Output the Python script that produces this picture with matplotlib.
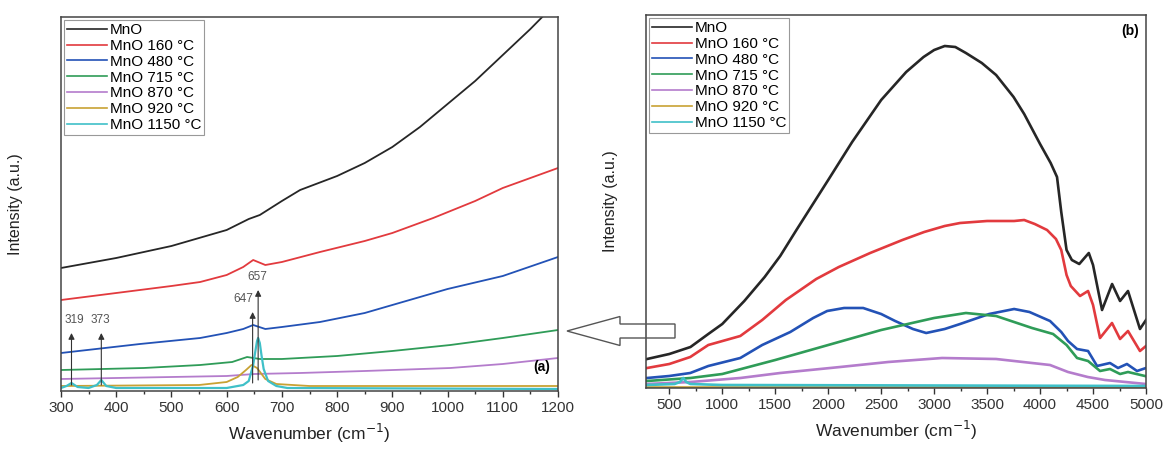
import numpy as np
import matplotlib
matplotlib.use("Agg")
import matplotlib.pyplot as plt
from matplotlib.patches import FancyArrow
from matplotlib.ticker import MultipleLocator

plt.rcParams['font.family'] = ['Liberation Sans', 'DejaVu Sans']

labels = ['MnO', 'MnO 160 °C', 'MnO 480 °C', 'MnO 715 °C',
          'MnO 870 °C', 'MnO 920 °C', 'MnO 1150 °C']
colors = ['#262626', '#e23a3e', '#2352b6', '#2f9c58',
          '#b47ccc', '#c8a234', '#3fc0c8']

# ---- panel (a): Raman, 300-1200 cm-1 (intensity in arbitrary units)
a_x = [
    [300, 400, 500, 600, 640, 660, 700, 733, 800, 850, 900, 950, 1000, 1050, 1100, 1150, 1200],
    [300, 400, 500, 552, 600, 630, 648, 670, 700, 769, 850, 900, 974, 1050, 1100, 1200],
    [300, 443, 552, 600, 630, 648, 670, 700, 769, 850, 900, 1000, 1100, 1200],
    [300, 450, 552, 610, 637, 660, 700, 733, 800, 900, 1005, 1100, 1200],
    [300, 500, 600, 650, 733, 850, 1005, 1100, 1200],
    [300, 550, 600, 620, 635, 645, 655, 670, 690, 750, 1200],
    [300, 310, 319, 330, 350, 365, 373, 382, 400, 600, 630, 640, 648, 652, 655, 657, 660, 663,
     667, 675, 690, 710, 1200],
]
a_y = [
    [125, 135, 147, 163, 174, 178, 192, 203, 217, 230, 246, 266, 289, 312, 338, 364, 392],
    [93, 100, 107, 111, 118, 126, 133, 128, 131, 141, 152, 160, 175, 192, 205, 225],
    [40, 49, 55, 60, 64, 68, 64, 66, 71, 80, 88, 104, 117, 136],
    [23, 25, 28, 31, 36, 34, 34, 35, 37, 42, 48, 55, 63],
    [14, 16, 17, 19, 20, 22, 25, 29, 35],
    [7, 8, 11, 16, 23, 28, 25, 14, 9, 7, 7],
    [5, 7, 10, 6, 5, 8, 13, 7, 5, 5, 8, 12, 28, 42, 52, 55, 50, 38,
     24, 12, 7, 5, 4],
]
peak_wn = [319, 373, 647, 657]
peak_base = [8, 8, 10, 13]
peak_top = [60, 60, 81, 103]
peak_text = ['319', '373', '647', '657']

# ---- panel (b): 300-5000 cm-1
b_x = [
    [290, 500, 700, 868, 1000, 1208, 1400, 1547, 1700, 2000, 2226, 2500, 2736, 2900, 3000, 3100,
     3200, 3300, 3450, 3585, 3750, 3850, 4000, 4100, 4160, 4200, 4250, 4300, 4370, 4460, 4500,
     4585, 4680, 4755, 4830, 4943, 5000],
    [290, 500, 698, 868, 1170, 1377, 1600, 1887, 2100, 2396, 2700, 2906, 3100, 3245, 3500, 3755,
     3850, 3950, 4066, 4150, 4200, 4250, 4290, 4377, 4453, 4500, 4566, 4679, 4755, 4830, 4943, 5000],
    [290, 500, 698, 868, 1170, 1377, 1642, 1858, 1990, 2150, 2330, 2500, 2632, 2800, 2925, 3100,
     3245, 3519, 3755, 3900, 4094, 4200, 4264, 4349, 4453, 4538, 4660, 4736, 4820, 4915, 5000],
    [290, 700, 1000, 1500, 2000, 2500, 3000, 3300, 3585, 3924, 4123, 4250, 4349, 4453, 4566, 4660,
     4755, 4830, 4990],
    [290, 700, 1170, 1547, 2113, 2566, 3075, 3585, 4094, 4264, 4450, 4613, 5000],
    [290, 1000, 2000, 3000, 4000, 5000],
    [290, 550, 600, 632, 660, 700, 1000, 5000],
]
b_y = [
    [31, 36, 43, 56, 66, 89, 113, 134, 160, 210, 248, 290, 318, 333, 340, 344,
     343, 337, 327, 315, 293, 276, 246, 227, 213, 178, 140, 130, 126, 137, 125,
     80, 106, 89, 99, 61, 70],
    [22, 26, 33, 45, 54, 70, 90, 111, 123, 137, 150, 158, 164, 167, 169, 169,
     170, 166, 160, 151, 140, 115, 104, 94, 99, 85, 52, 67, 51, 59, 39, 44],
    [12, 14, 17, 24, 32, 45, 58, 72, 79, 82, 82, 76, 69, 61, 57, 61,
     66, 76, 81, 78, 69, 58, 49, 41, 39, 24, 27, 22, 26, 19, 22],
    [9, 12, 16, 30, 45, 60, 72, 77, 74, 62, 56, 45, 32, 29, 19, 21,
     16, 18, 14],
    [6, 8, 12, 17, 23, 28, 32, 31, 25, 18, 13, 10, 6],
    [3, 3, 3, 3, 3, 3],
    [5, 6, 8, 12, 8, 6, 5, 4],
]

W, H = 1165, 450
fig = plt.figure(figsize=(W / 100, H / 100), dpi=100)
ax1 = fig.add_axes([61 / W, 1 - 391 / H, 497 / W, 374 / H])
ax2 = fig.add_axes([646 / W, 1 - 388 / H, 500 / W, 373 / H])

for i in range(len(labels)):
    lw_a = 1.6 if i == 6 else 1.3
    ax1.plot(a_x[i], a_y[i], color=colors[i], lw=lw_a, label=labels[i])
    ax2.plot(b_x[i], b_y[i], color=colors[i], lw=1.9, label=labels[i])

for wn, y0, y1, t in zip(peak_wn, peak_base, peak_top, peak_text):
    ax1.annotate('', xy=(wn, y1), xytext=(wn, y0),
                 arrowprops=dict(arrowstyle='-|>', color='#333333', lw=0.8,
                                 mutation_scale=9, shrinkA=0, shrinkB=0))
dx = [5, -1, -17, -2]
for wn, y1, t, d in zip(peak_wn, peak_top, peak_text, dx):
    ax1.text(wn + d, y1 + 7, t, ha='center', va='bottom', fontsize=8.5, color='#555555')

ax1.set_xlim(300, 1200)
ax1.set_ylim(2, 376)
ax1.xaxis.set_major_locator(MultipleLocator(100))
ax1.xaxis.set_minor_locator(MultipleLocator(50))
ax1.text(0.985, 0.045, '(a)', transform=ax1.transAxes, ha='right', va='bottom',
         fontsize=10, fontweight='bold')

ax2.set_xlim(280, 5000)
ax2.set_ylim(2, 375)
ax2.xaxis.set_major_locator(MultipleLocator(500))
ax2.xaxis.set_minor_locator(MultipleLocator(250))
ax2.set_xticks(np.arange(500, 5001, 500))
ax2.text(0.985, 0.975, '(b)', transform=ax2.transAxes, ha='right', va='top',
         fontsize=10, fontweight='bold')

for ax, pad in ((ax1, 27), (ax2, 20)):
    ax.set_yticks([])
    ax.tick_params(axis='x', which='major', direction='out', length=4, width=1,
                   labelsize=11, colors='#333333', pad=3)
    ax.tick_params(axis='x', which='minor', direction='out', length=2.5, width=1,
                   colors='#333333')
    for s in ax.spines.values():
        s.set_color('#444444')
        s.set_linewidth(1.1)
    ax.set_xlabel('Wavenumber (cm$^{-1}$)', fontsize=12.5, color='#222222', labelpad=5)
    ax.set_ylabel('Intensity (a.u.)', fontsize=11.5, color='#222222', labelpad=pad)
    leg = ax.legend(loc='upper left', fontsize=11, frameon=True, fancybox=False,
                    framealpha=1, edgecolor='#999999', handlelength=2.6,
                    handletextpad=0.2, labelspacing=0.12, borderpad=0.2,
                    borderaxespad=0.2)
    leg.get_frame().set_linewidth(0.8)
    for line in leg.get_lines():
        line.set_linewidth(1.2)

# hollow arrow pointing from panel (b) towards panel (a)
arrow = FancyArrow(675 / W, 1 - 331 / H, -(675 - 567) / W, 0,
                   width=14 / H, head_width=29 / H, head_length=53 / W,
                   length_includes_head=True, transform=fig.transFigure,
                   facecolor='none', edgecolor='#555555', lw=1.0)
fig.patches.append(arrow)

fig.savefig('out.png', dpi=100)
